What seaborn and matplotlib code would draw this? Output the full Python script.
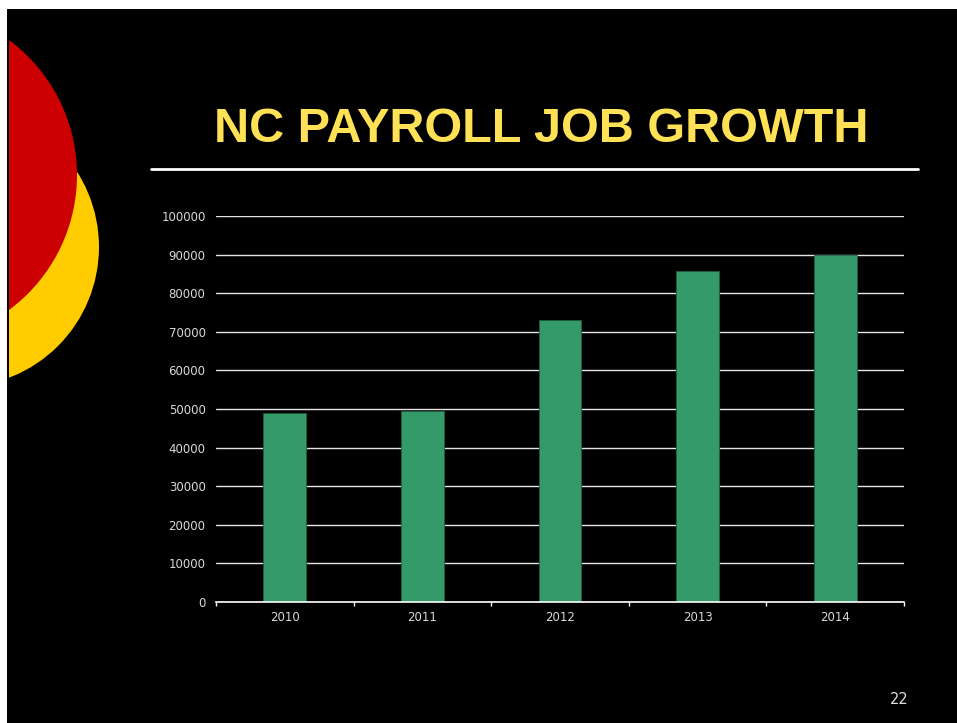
import matplotlib
matplotlib.use('Agg')
import matplotlib.pyplot as plt
import pandas as pd
import seaborn as sns
from matplotlib.patches import Circle, Rectangle

# data
years = ['2010', '2011', '2012', '2013', '2014']
jobs = [49000, 49500, 73100, 85700, 90000]
y_ticks = list(range(0, 100001, 10000))

sns.set_style('dark')
plt.rcParams['font.family'] = ['DejaVu Sans']

W, H = 957, 723
fig = plt.figure(figsize=(W / 100, H / 100), dpi=100, facecolor='white')

# black slide background
fig.patches.append(Rectangle((7 / W, 0), 1 - 7 / W, 1 - 9 / H, transform=fig.transFigure,
                             facecolor='black', edgecolor='none', zorder=-10))

# decorative circles on the left
deco = fig.add_axes([9 / W, 0, 1 - 9 / W, 1 - 9 / H])
deco.set_xlim(9, W)
deco.set_ylim(H, 9)
deco.axis('off')
deco.patch.set_alpha(0)
deco.add_patch(Circle((-41, 247), 140, facecolor='#ffcc00', edgecolor='none'))
deco.add_patch(Circle((-91, 175), 168, facecolor='#cc0000', edgecolor='none'))

# title and rule
fig.text(541 / W, 1 - 130 / H, 'NC PAYROLL JOB GROWTH', ha='center', va='center',
         fontsize=35, fontweight='bold', color='#ffe155', family='Liberation Sans')
fig.add_artist(plt.Line2D([151 / W, 918 / W], [1 - 169 / H, 1 - 169 / H],
                          transform=fig.transFigure, color='white', lw=2))
fig.text(899 / W, 1 - 700 / H, '22', ha='center', va='center', fontsize=10.5, color='#e0e0e0')

# chart
ax = fig.add_axes([216 / W, 1 - 602 / H, (904 - 216) / W, (602 - 216) / H])
df = pd.DataFrame({'year': years, 'jobs': jobs})
sns.barplot(data=df, x='year', y='jobs', color='#349a6a', width=0.31,
            edgecolor='#1e5e40', linewidth=0.6, saturation=1, ax=ax)
ax.set_facecolor('none')
ax.set_xlim(-0.5, 4.5)
ax.set_ylim(0, 100000)
ax.set_yticks(y_ticks)
ax.set_yticklabels([str(v) for v in y_ticks])
ax.set(xlabel='', ylabel='')
ax.grid(axis='y', color='#e6e6e6', lw=1)
ax.grid(axis='x', visible=False)
ax.set_axisbelow(True)
for s in ['top', 'right', 'left']:
    ax.spines[s].set_visible(False)
ax.spines['bottom'].set_color('white')
ax.spines['bottom'].set_linewidth(1.2)
ax.tick_params(axis='y', length=0, pad=7.5, labelsize=8.5, labelcolor='#d9d9d9')
ax.tick_params(axis='x', which='major', length=0, pad=6.5, labelsize=8.5, labelcolor='#d9d9d9')
ax.set_xticks([i - 0.5 for i in range(len(years) + 1)], minor=True)
ax.tick_params(axis='x', which='minor', bottom=True, length=3, color='white', width=1,
               direction='out')

fig.savefig('out.png', dpi=100, facecolor='white')
